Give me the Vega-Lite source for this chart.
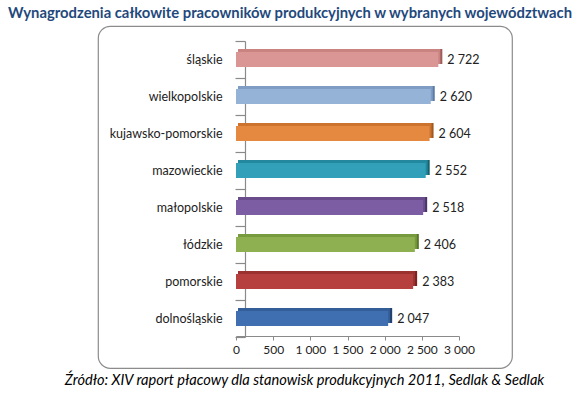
{
  "$schema": "https://vega.github.io/schema/vega-lite/v6.json",
  "width": 414,
  "height": 342,
  "autosize": {"type": "none"},
  "padding": {"left": 98, "top": 26, "right": 68, "bottom": 31},
  "background": "white",
  "title": {
    "text": "Wynagrodzenia całkowite pracowników produkcyjnych w wybranych województwach",
    "anchor": "middle",
    "dx": -15,
    "offset": -1,
    "fontSize": 14.8,
    "font": "Lato",
    "fontWeight": "bold",
    "color": "#1F497D"
  },
  "data": {
    "values": [
      {"woj": "śląskie", "value": 2722},
      {"woj": "wielkopolskie", "value": 2620},
      {"woj": "kujawsko-pomorskie", "value": 2604},
      {"woj": "mazowieckie", "value": 2552},
      {"woj": "małopolskie", "value": 2518},
      {"woj": "łódzkie", "value": 2406},
      {"woj": "pomorskie", "value": 2383},
      {"woj": "dolnośląskie", "value": 2047}
    ]
  },
  "encoding": {
    "y": {
      "field": "woj",
      "type": "nominal",
      "sort": ["śląskie", "wielkopolskie", "kujawsko-pomorskie", "mazowieckie", "małopolskie", "łódzkie", "pomorskie", "dolnośląskie"],
      "scale": {"range": [15, 311], "paddingInner": 0, "paddingOuter": 0},
      "axis": {
        "title": null,
        "orient": "left",
        "offset": -147,
        "tickBand": "extent",
        "tickSize": 10,
        "labelPadding": 13,
        "labelFontSize": 12.5,
        "labelFont": "Lato",
        "labelColor": "#222222",
        "domainColor": "#8a8a8a",
        "tickColor": "#8a8a8a",
        "domainWidth": 1.2,
        "tickWidth": 1.2
      }
    },
    "x": {
      "field": "value",
      "type": "quantitative",
      "scale": {"domain": [0, 3000], "range": [138, 361], "nice": false, "zero": true},
      "axis": {
        "values": [0, 500, 1000, 1500, 2000, 2500, 3000],
        "labelOverlap": false,
        "labelFlush": false,
        "offset": -32,
        "grid": false,
        "tickSize": 4,
        "labelPadding": 4,
        "labelFontSize": 12,
        "labelFont": "Lato",
        "labelColor": "#222222",
        "domainColor": "#8a8a8a",
        "tickColor": "#8a8a8a",
        "domainWidth": 1.2,
        "title": "Źródło: XIV raport płacowy dla stanowisk produkcyjnych 2011, Sedlak & Sedlak",
        "titleX": 206,
        "titleY": 44,
        "titleAlign": "center",
        "titleBaseline": "middle",
        "titleFont": "Lato",
        "titleFontStyle": "italic",
        "titleFontWeight": "normal",
        "titleFontSize": 14.6,
        "titleColor": "#000000"
      }
    }
  },
  "layer": [
    {
      "mark": {"type": "bar", "height": {"band": 0.4}, "xOffset": 4, "x2Offset": 4, "yOffset": -3, "y2Offset": -3},
      "encoding": {
        "color": {
          "field": "woj",
          "type": "nominal",
          "legend": null,
          "scale": {
            "domain": ["śląskie", "wielkopolskie", "kujawsko-pomorskie", "mazowieckie", "małopolskie", "łódzkie", "pomorskie", "dolnośląskie"],
            "range": ["#9E5C5A", "#5C7AA6", "#A05A20", "#17616F", "#4B3467", "#5A7628", "#7A2220", "#23426E"]
          }
        }
      }
    },
    {
      "mark": {"type": "bar", "height": {"band": 0.4}, "xOffset": 2, "x2Offset": 2, "yOffset": -3, "y2Offset": -3},
      "encoding": {
        "color": {
          "field": "woj",
          "type": "nominal",
          "legend": null,
          "scale": {
            "domain": ["śląskie", "wielkopolskie", "kujawsko-pomorskie", "mazowieckie", "małopolskie", "łódzkie", "pomorskie", "dolnośląskie"],
            "range": ["#C98482", "#7E9CC4", "#CC7330", "#23889E", "#684C8C", "#789A3E", "#9C3230", "#335E98"]
          }
        }
      }
    },
    {
      "mark": {"type": "bar", "height": {"band": 0.4}},
      "encoding": {
        "color": {
          "field": "woj",
          "type": "nominal",
          "legend": null,
          "scale": {
            "domain": ["śląskie", "wielkopolskie", "kujawsko-pomorskie", "mazowieckie", "małopolskie", "łódzkie", "pomorskie", "dolnośląskie"],
            "range": ["#D99694", "#95B3D7", "#E4893F", "#31A0B8", "#7C5DA3", "#8EB050", "#B5403D", "#3F6FB0"]
          }
        }
      }
    },
    {
      "mark": {"type": "text", "align": "left", "baseline": "middle", "dx": 9, "fontSize": 12.5, "font": "Lato", "color": "#222222"},
      "encoding": {
        "text": {"field": "value", "type": "quantitative", "format": ",d"}
      }
    }
  ],
  "resolve": {"scale": {"color": "independent"}},
  "config": {
    "locale": {"number": {"decimal": ",", "thousands": " ", "grouping": [3], "currency": ["", " zł"]}},
    "view": {"stroke": "#8c8c8c", "strokeWidth": 1.2, "cornerRadius": 12},
    "font": "Lato"
  }
}
